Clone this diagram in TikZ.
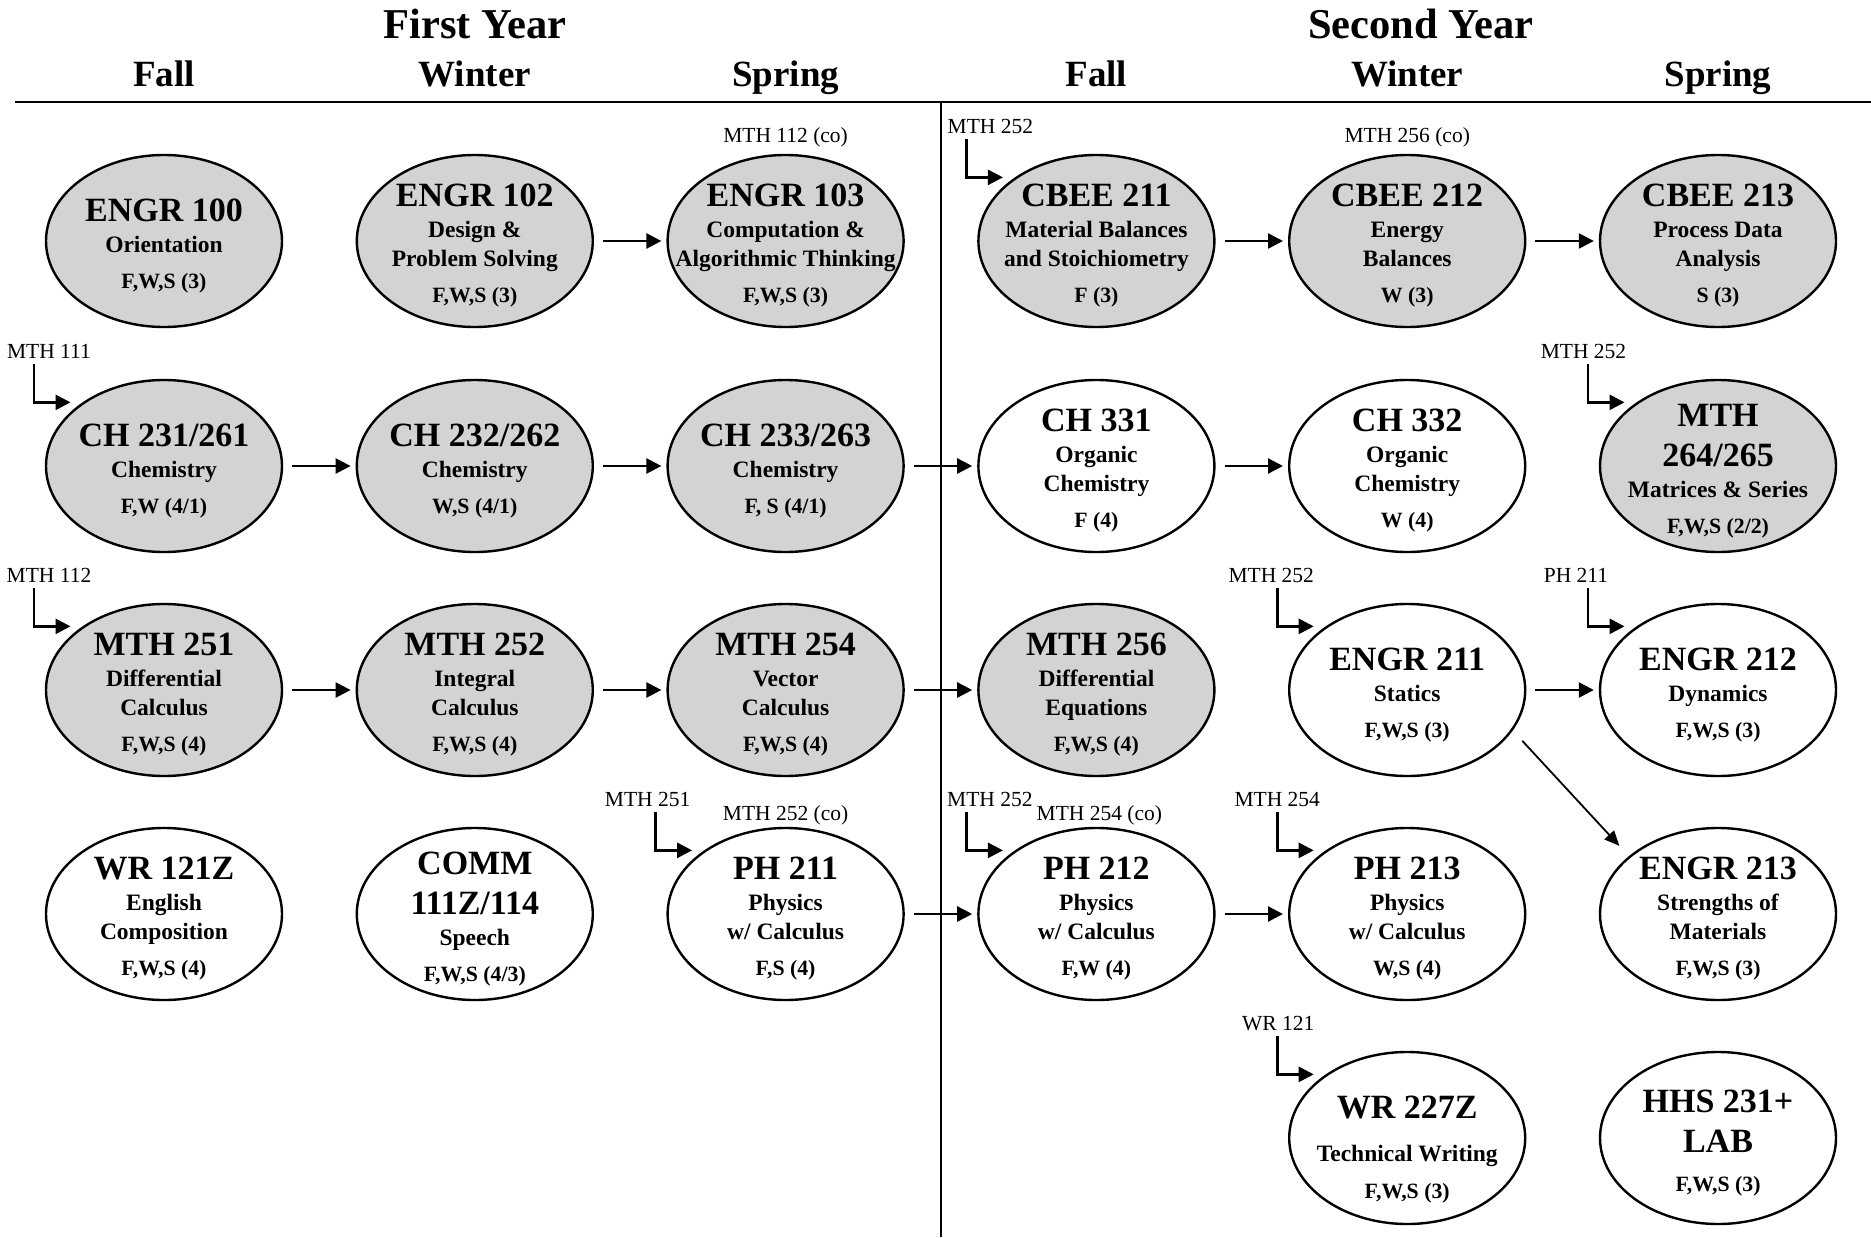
\documentclass[tikz,border=0pt]{standalone}
\usepackage{fontspec}
\setmainfont{Liberation Serif}
\usetikzlibrary{shapes.geometric,arrows.meta}

\definecolor{crsgray}{RGB}{211,211,211}

% course text: [gap] code, subtitle, terms (credits)
\newcommand{\crs}[4][2.5pt]{\makebox[0pt]{\raisebox{\dimexpr-7.5pt-(#1-2.5pt)/2\relax}[0pt][0pt]{\parbox[c]{300pt}{\centering\bfseries
	{\fontsize{34}{40}\selectfont #2\endgraf}
	\vspace{#1}
	{\fontsize{23.5}{28.5}\selectfont #3\endgraf}
	\vspace{8pt}
	{\fontsize{21.8}{28.5}\selectfont #4\endgraf}}}}}

\begin{document}
\begin{tikzpicture}[
		x=1pt, y=-1pt,
		node distance=310.8pt,
		course/.style={
			ellipse,
			draw,
			line width=2.4pt,
			minimum width=236pt,
			minimum height=172pt,
			inner sep=0pt,
		},
		shaded/.style={
			course,
			fill=crsgray,
		},
		link/.style={
			-{Triangle[length=15pt,width=15pt]},
			line width=2.4pt,
			shorten <=9pt,
			shorten >=5pt,
		},
		thinlink/.style={
			-{Triangle[length=15pt,width=13pt]},
			line width=1.8pt,
			shorten <=14pt,
			shorten >=14pt,
		},
		elbow/.style={
			-{Triangle[length=15pt,width=15pt]},
			line width=2.6pt,
			shorten >=12pt,
		},
		pre/.style={
			anchor=base,
			inner sep=0pt,
			font=\fontsize{21.5}{25}\selectfont,
		},
		year/.style={
			anchor=base,
			inner sep=0pt,
			font=\bfseries\fontsize{42.5}{50}\selectfont,
		},
		season/.style={
			anchor=base,
			inner sep=0pt,
			font=\bfseries\fontsize{37}{44}\selectfont,
		},
	]

	\useasboundingbox (0,0) rectangle (1871,1237);

	% headings
	\node [year] (Y1) at (475,38) {First Year};
	\node [year] (Y2) at (1421,38) {Second Year};
	\node [season] (F1) at (164,86) {Fall};
	\node [season] (W1) at (474.8,86) {Winter};
	\node [season] (S1) at (785.6,86) {Spring};
	\node [season] (F2) at (1096.4,86) {Fall};
	\node [season] (W2) at (1407.2,86) {Winter};
	\node [season] (S2) at (1718,86) {Spring};
	\draw [line width=2.4pt] (15,102) -- (1871,102);
	\draw [line width=2.4pt] (941,103) -- (941,1237);

	% row 1
	\node [shaded] (E100) at (164,241) {\crs{ENGR 100}{Orientation}{F,W,S (3)}};
	\node [shaded, right of=E100] (E102) {\crs{ENGR 102}{Design \&\\Problem Solving}{F,W,S (3)}};
	\node [shaded, right of=E102] (E103) {\crs{ENGR 103}{Computation \&\\Algorithmic Thinking}{F,W,S (3)}};
	\node [shaded, right of=E103] (C211) {\crs{CBEE 211}{Material Balances\\and Stoichiometry}{F (3)}};
	\node [shaded, right of=C211] (C212) {\crs{CBEE 212}{Energy\\Balances}{W (3)}};
	\node [shaded, right of=C212] (C213) {\crs{CBEE 213}{Process Data\\Analysis}{S (3)}};

	% row 2
	\node [shaded] (CH231) at (164,466) {\crs{CH 231/261}{Chemistry}{F,W (4/1)}};
	\node [shaded, right of=CH231] (CH232) {\crs{CH 232/262}{Chemistry}{W,S (4/1)}};
	\node [shaded, right of=CH232] (CH233) {\crs{CH 233/263}{Chemistry}{F, S (4/1)}};
	\node [course, right of=CH233] (CH331) {\crs{CH 331}{Organic\\Chemistry}{F (4)}};
	\node [course, right of=CH331] (CH332) {\crs{CH 332}{Organic\\Chemistry}{W (4)}};
	\node [shaded, right of=CH332] (M264) {\crs{MTH\\264/265}{Matrices \& Series}{F,W,S (2/2)}};

	% row 3
	\node [shaded] (M251) at (164,690) {\crs{MTH 251}{Differential\\Calculus}{F,W,S (4)}};
	\node [shaded, right of=M251] (M252) {\crs{MTH 252}{Integral\\Calculus}{F,W,S (4)}};
	\node [shaded, right of=M252] (M254) {\crs{MTH 254}{Vector\\Calculus}{F,W,S (4)}};
	\node [shaded, right of=M254] (M256) {\crs{MTH 256}{Differential\\Equations}{F,W,S (4)}};
	\node [course, right of=M256] (E211) {\crs{ENGR 211}{Statics}{F,W,S (3)}};
	\node [course, right of=E211] (E212) {\crs{ENGR 212}{Dynamics}{F,W,S (3)}};

	% row 4
	\node [course] (W121) at (164,914) {\crs{WR 121Z}{English\\Composition}{F,W,S (4)}};
	\node [course, right of=W121] (COMM) {\crs{COMM\\111Z/114}{Speech}{F,W,S (4/3)}};
	\node [course, right of=COMM] (P211) {\crs{PH 211}{Physics\\w/ Calculus}{F,S (4)}};
	\node [course, right of=P211] (P212) {\crs{PH 212}{Physics\\w/ Calculus}{F,W (4)}};
	\node [course, right of=P212] (P213) {\crs{PH 213}{Physics\\w/ Calculus}{W,S (4)}};
	\node [course, right of=P213] (E213) {\crs{ENGR 213}{Strengths of\\Materials}{F,W,S (3)}};

	% row 5
	\node [course] (W227) at (1407.2,1138) {\crs[15pt]{WR 227Z}{Technical Writing}{F,W,S (3)}};
	\node [course, right of=W227] (HHS) {\crs{HHS 231+\\LAB}{}{F,W,S (3)}};

	% sequences
	\draw [link] (E102.east) -- (E103.west);
	\draw [link] (C211.east) -- (C212.west);
	\draw [link] (C212.east) -- (C213.west);
	\draw [link] (CH231.east) -- (CH232.west);
	\draw [link] (CH232.east) -- (CH233.west);
	\draw [link] (CH233.east) -- (CH331.west);
	\draw [link] (CH331.east) -- (CH332.west);
	\draw [link] (M251.east) -- (M252.west);
	\draw [link] (M252.east) -- (M254.west);
	\draw [link] (M254.east) -- (M256.west);
	\draw [link] (E211.east) -- (E212.west);
	\draw [link] (P211.east) -- (P212.west);
	\draw [link] (P212.east) -- (P213.west);
	\draw [thinlink] (E211.-21.5) -- (E213.147.3);

	% co-requisites
	\node [pre] (co103) at ([shift={(0,-99)}]E103.center) {MTH 112 (co)};
	\node [pre] (co212) at ([shift={(0,-99)}]C212.center) {MTH 256 (co)};
	\node [pre] (co211) at ([shift={(0,-94)}]P211.center) {MTH 252 (co)};
	\node [pre] (coP212) at ([shift={(3,-94)}]P212.center) {MTH 254 (co)};

	% prerequisites
	\node [pre] (pM111) at ([shift={(-115,-107.5)}]CH231.center) {MTH 111};
	\node [pre] (pM112) at ([shift={(-115,-107.5)}]M251.center) {MTH 112};
	\node [pre] (pM251) at ([shift={(-138,-107.5)}]P211.center) {MTH 251};
	\node [pre] (pC211) at ([shift={(-106,-107.5)}]C211.center) {MTH 252};
	\node [pre] (pM264) at ([shift={(-134.5,-107.5)}]M264.center) {MTH 252};
	\node [pre] (pE211) at ([shift={(-136,-107.5)}]E211.center) {MTH 252};
	\node [pre] (pE212) at ([shift={(-142,-107.5)}]E212.center) {PH 211};
	\node [pre] (pP212) at ([shift={(-106.5,-107.5)}]P212.center) {MTH 252};
	\node [pre] (pP213) at ([shift={(-130,-107.5)}]P213.center) {MTH 254};
	\node [pre] (pW227) at ([shift={(-129,-107.5)}]W227.center) {WR 121};

	\draw [elbow] ([shift={(-15,5)}]pM111.base) |- (CH231.142);
	\draw [elbow] ([shift={(-15,5)}]pM112.base) |- (M251.142);
	\draw [elbow] ([shift={(8,5)}]pM251.base) |- (P211.142);
	\draw [elbow] ([shift={(-24,5)}]pC211.base) |- (C211.142);
	\draw [elbow] ([shift={(4.5,5)}]pM264.base) |- (M264.142);
	\draw [elbow] ([shift={(6,5)}]pE211.base) |- (E211.142);
	\draw [elbow] ([shift={(12,5)}]pE212.base) |- (E212.142);
	\draw [elbow] ([shift={(-23.5,5)}]pP212.base) |- (P212.142);
	\draw [elbow] ([shift={(0,5)}]pP213.base) |- (P213.142);
	\draw [elbow] ([shift={(-1,5)}]pW227.base) |- (W227.142);

\end{tikzpicture}
\end{document}
